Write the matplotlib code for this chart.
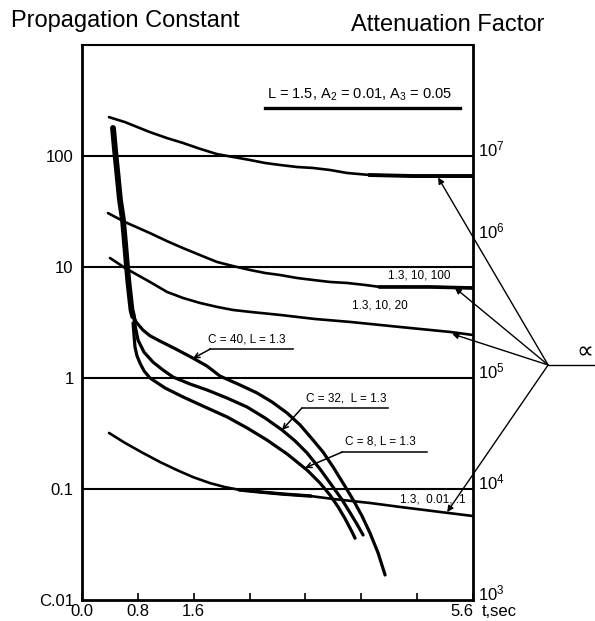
import matplotlib
matplotlib.use("Agg")
import matplotlib.pyplot as plt
import numpy as np
from matplotlib.ticker import NullLocator

plt.rcParams['font.family'] = ['Liberation Sans', 'DejaVu Sans']
plt.rcParams['mathtext.fontset'] = 'custom'
plt.rcParams['mathtext.rm'] = 'Liberation Sans'
plt.rcParams['mathtext.it'] = 'Liberation Sans:italic'

# valeurs (t en s, constante de propagation)
trunk_t = [0.444, 0.473, 0.516, 0.544, 0.587, 0.616, 0.645, 0.666, 0.688, 0.709, 0.731]
trunk_y = [179, 113, 60.8, 40.2, 26.5, 16.4, 10.0, 7.18, 5.37, 4.10, 3.6]

c40_t = [0.716, 0.774, 0.874, 0.974, 1.117, 1.332, 1.590, 1.791, 1.977, 2.264, 2.507, 2.722,
         2.937, 3.123, 3.309, 3.453, 3.596, 3.739, 3.883, 4.011, 4.126, 4.241, 4.341]
c40_y = [3.94, 3.20, 2.70, 2.40, 2.15, 1.84, 1.51, 1.28, 1.04, 0.865, 0.733, 0.608,
         0.484, 0.378, 0.276, 0.215, 0.158, 0.113, 0.080, 0.057, 0.040, 0.0265, 0.0168]

c32_t = [0.731, 0.759, 0.802, 0.888, 1.017, 1.160, 1.304, 1.547, 1.791, 2.077, 2.364, 2.622,
         2.865, 3.052, 3.224, 3.410, 3.596, 3.725, 3.840, 3.940, 4.026]
c32_y = [3.85, 3.00, 2.20, 1.71, 1.39, 1.18, 1.02, 0.883, 0.780, 0.660, 0.548, 0.436,
         0.340, 0.271, 0.211, 0.151, 0.104, 0.080, 0.061, 0.048, 0.0385]

c8_t = [0.731, 0.745, 0.759, 0.788, 0.831, 0.888, 0.974, 1.189, 1.447, 1.762, 2.077, 2.364,
        2.650, 2.937, 3.224, 3.410, 3.553, 3.668, 3.768, 3.868, 3.911]
c8_y = [3.13, 2.44, 1.90, 1.58, 1.36, 1.16, 1.0, 0.813, 0.675, 0.548, 0.446, 0.355,
        0.276, 0.207, 0.148, 0.113, 0.088, 0.069, 0.054, 0.041, 0.036]

# facteurs d'attenuation
att_a_t = [0.387, 0.616, 0.974, 1.218, 1.447, 1.691, 1.934, 2.163, 2.407, 2.622, 2.837,
           3.080, 3.309, 3.553, 3.797, 4.126, 4.742, 5.6]
att_a_y = [224, 202, 164, 145, 131, 116, 104, 98, 92, 86.5, 83,
           79.6, 78, 74.8, 70.3, 67.4, 66, 66]

att_b_t = [0.372, 0.616, 0.974, 1.218, 1.447, 1.691, 1.934, 2.163, 2.407, 2.622, 2.837,
           3.080, 3.309, 3.553, 3.797, 4.054, 4.269, 4.986, 5.6]
att_b_y = [30.6, 25.4, 20.2, 17.1, 14.8, 12.8, 11.1, 10.2, 9.4, 8.83, 8.47,
           7.96, 7.64, 7.33, 7.18, 6.89, 6.61, 6.61, 6.47]

att_c_t = [0.401, 0.616, 0.974, 1.218, 1.447, 1.691, 1.934, 2.163, 2.407, 2.837, 3.338,
           3.840, 4.556, 5.272, 5.6]
att_c_y = [12.05, 9.8, 7.33, 5.96, 5.26, 4.74, 4.37, 4.10, 3.94, 3.70, 3.40,
           3.20, 2.88, 2.60, 2.44]

att_e_t = [0.387, 0.616, 0.874, 1.117, 1.361, 1.590, 1.834, 2.049, 2.264, 2.550, 2.880,
           3.266, 3.596, 4.126, 4.556, 5.129, 5.6]
att_e_y = [0.320, 0.260, 0.211, 0.175, 0.148, 0.128, 0.113, 0.104, 0.098, 0.094, 0.090,
           0.0865, 0.0813, 0.0748, 0.0689, 0.0621, 0.0571]

# pointes des fleches "alpha"
tips_t = [5.10, 5.34, 5.30, 5.23]
tips_y = [64, 6.5, 2.5, 0.062]

grid_y = [100, 10, 1, 0.1]
left_ticks = [100, 10, 1, 0.1, 0.01]
left_labels = ['100', '10', '1', '0.1', 'C.01']
right_pos = [100, 18, 1, 0.1, 0.01]
right_labels = ['$10^7$', '$10^6$', '$10^5$', '$10^4$', '$10^3$']
x_ticks = [0.0, 0.8, 1.6, 2.4, 3.2, 4.0, 4.8, 5.6]
x_labels = ['0.0', '0.8', '1.6', '', '', '', '', '5.6']

fig = plt.figure(figsize=(5.95, 6.21), dpi=100)
ax = fig.add_axes([82/595, 21/621, 391/595, 555/621])
ax.set_yscale('log')
ax.set_xlim(0, 5.6)
ax.set_ylim(0.01, 1000)

for g in grid_y:
    ax.axhline(g, color='k', lw=1.5)

ax.plot(trunk_t, trunk_y, color='k', lw=4.2, solid_capstyle='round', solid_joinstyle='round')
for tt, yy in [(c40_t, c40_y), (c32_t, c32_y), (c8_t, c8_y)]:
    ax.plot(tt, yy, color='k', lw=2.3, solid_capstyle='round', solid_joinstyle='round')
for tt, yy in [(att_a_t, att_a_y), (att_b_t, att_b_y), (att_c_t, att_c_y), (att_e_t, att_e_y)]:
    ax.plot(tt, yy, color='k', lw=1.9, solid_capstyle='round', solid_joinstyle='round')
# bouts plus epais a droite
ax.plot(att_a_t[-3:], att_a_y[-3:], color='k', lw=2.8)
ax.plot(att_b_t[-3:], att_b_y[-3:], color='k', lw=2.6)
ax.plot(att_e_t[8:12], att_e_y[8:12], color='k', lw=2.5)

# textes sur les courbes
ax.text(3.98, 355, 'L = 1.5, A$_2$ = 0.01, A$_3$ = 0.05', ha='center', va='center', fontsize=10.5)
ax.plot([2.62, 5.415], [270, 270], color='k', lw=2.4)
ax.text(4.38, 8.47, '1.3, 10, 100', ha='left', va='center', fontsize=8.5)
ax.text(4.27, 4.46, '1.3, 10, 20', ha='center', va='center', fontsize=8.5)
ax.text(4.556, 0.0796, '1.3,  0.01, .1', ha='left', va='center', fontsize=8.5)

labels = [('C = 40, L = 1.3', 2.364, 2.20, 1.834, 3.023, 1.82, 1.59, 1.50),
          ('C = 32,  L = 1.3', 3.78, 0.66, 3.15, 4.38, 0.537, 2.865, 0.340),
          ('C = 8, L = 1.3', 4.27, 0.270, 3.725, 4.94, 0.215, 3.195, 0.155)]
for txt, tx, ty, x0, x1, yl, ax_t, ax_y in labels:
    ax.text(tx, ty, txt, ha='center', va='center', fontsize=8.5)
    ax.plot([x0, x1], [yl, yl], color='k', lw=1.1)
    ax.annotate('', xy=(ax_t, ax_y), xytext=(x0, yl),
                arrowprops=dict(arrowstyle='->', lw=1.1, color='k', shrinkA=0, shrinkB=0, mutation_scale=9))

# fleches alpha
hub = (6.676, 1.31)
for tt, yy in zip(tips_t, tips_y):
    ax.annotate('', xy=(tt, yy), xytext=hub, annotation_clip=False,
                arrowprops=dict(arrowstyle='-|>', lw=1.0, color='k', shrinkA=0, shrinkB=0, mutation_scale=9))
ax.plot([hub[0], 7.4], [hub[1], hub[1]], color='k', lw=1.0, clip_on=False)
ax.text(7.2, 1.72, '\u221d', ha='center', va='center', fontsize=17, family=['DejaVu Sans'])

# axes
ax.set_yticks(left_ticks)
ax.set_yticklabels(left_labels, fontsize=12)
ax.yaxis.set_minor_locator(NullLocator())
ax.tick_params(axis='y', length=0, pad=6)
ax.set_xticks(x_ticks)
ax.set_xticklabels(x_labels, fontsize=12)
ax.get_xticklabels()[-1].set_ha('right')
ax.tick_params(axis='x', direction='in', length=5, width=1.2, pad=3)
ax.text(1.023, -0.007, 't,sec', transform=ax.transAxes, ha='left', va='top', fontsize=12)

for pos, lab in zip(right_pos, right_labels):
    ax.text(1.012, pos, lab, transform=ax.get_yaxis_transform(), ha='left', va='baseline', fontsize=12)

for s in ['left', 'right', 'bottom']:
    ax.spines[s].set_linewidth(2.0)
ax.spines['top'].set_linewidth(1.5)

fig.text(11/595, 1 - 21/621, 'Propagation Constant', fontsize=17, ha='left', va='center')
fig.text(351/595, 1 - 25/621, 'Attenuation Factor', fontsize=17, ha='left', va='center')

fig.savefig('out.png', dpi=100)
